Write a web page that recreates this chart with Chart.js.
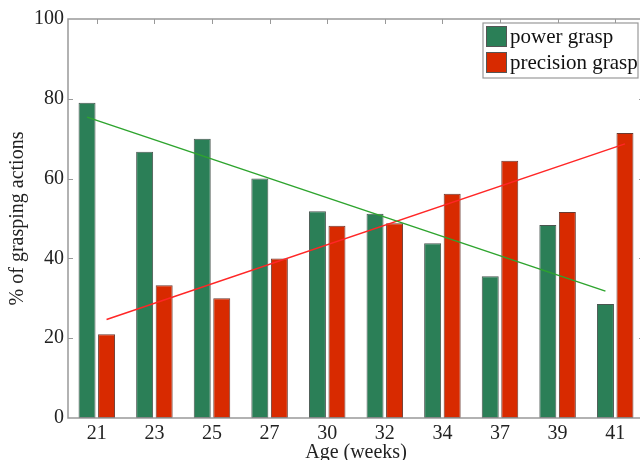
<!DOCTYPE html>
<html>
<head>
<meta charset="utf-8">
<script src="https://cdn.jsdelivr.net/npm/chart.js@4.4.1/dist/chart.umd.min.js"></script>
<style>
  html, body { margin: 0; padding: 0; overflow: hidden; background: #fff; }
  #wrap { width: 646px; height: 460px; }
</style>
</head>
<body>
<div id="wrap"><canvas id="myChart"></canvas></div>
<script>
const ageWeeks = ["21", "23", "25", "27", "30", "32", "34", "37", "39", "41"];
const powerGrasp = [79, 66.7, 70, 60, 51.8, 51.2, 43.8, 35.5, 48.4, 28.6];
const precisionGrasp = [21, 33.3, 30, 40, 48.2, 48.8, 56.2, 64.5, 51.6, 71.4];

// fitted trend lines, first and last week
const trendIndex = [0, 9];
const powerTrend = [75.4, 31.8];
const precisionTrend = [24.7, 68.7];

const yTicks = [0, 20, 40, 60, 80, 100];

const serif = "'Liberation Serif', 'Times New Roman', serif";
const categoryPct = 0.678;
// each bar centre sits a quarter of the group width off the week position
const barShift = categoryPct / 4;

const frameBox = {
  id: "frameBox",
  afterDatasetsDraw(chart) {
    const { ctx, chartArea: a, scales } = chart;
    ctx.save();
    ctx.strokeStyle = "#999";
    ctx.lineWidth = 1.5;
    ctx.strokeRect(a.left, a.top, a.right - a.left, a.bottom - a.top);
    ctx.lineWidth = 1;
    ctx.beginPath();
    yTicks.slice(1, -1).forEach((v) => {
      const y = Math.round(scales.y.getPixelForValue(v)) + 0.5;
      ctx.moveTo(a.left, y);
      ctx.lineTo(a.left + 5, y);
      ctx.moveTo(a.right - 5, y);
      ctx.lineTo(a.right, y);
    });
    ageWeeks.forEach((c, i) => {
      const x = Math.round(scales.x.getPixelForValue(i)) + 0.5;
      ctx.moveTo(x, a.top);
      ctx.lineTo(x, a.top + 5);
    });
    ctx.stroke();
    ctx.restore();
  },
};

const boxLegend = {
  id: "boxLegend",
  afterDraw(chart) {
    const { ctx, chartArea: a } = chart;
    const sets = chart.data.datasets.filter((d) => d.type !== "line");
    const w = 155, h = 55;
    const x0 = a.right - 6 - w, y0 = a.top + 4;
    ctx.save();
    ctx.fillStyle = "#fff";
    ctx.fillRect(x0, y0, w, h);
    ctx.strokeStyle = "#999";
    ctx.lineWidth = 1.2;
    ctx.strokeRect(x0, y0, w, h);
    ctx.font = "21px " + serif;
    ctx.textBaseline = "middle";
    sets.forEach((d, i) => {
      const y = y0 + 3 + i * 26;
      ctx.fillStyle = d.backgroundColor;
      ctx.fillRect(x0 + 3, y, 21, 21);
      ctx.strokeStyle = "#555";
      ctx.lineWidth = 1;
      ctx.strokeRect(x0 + 3.5, y + 0.5, 20, 20);
      ctx.fillStyle = "#111";
      ctx.fillText(d.label, x0 + 27, y + 11);
    });
    ctx.restore();
  },
};

const ctx = document.getElementById("myChart").getContext("2d");
const myChart = new Chart(ctx, {
  type: "bar",
  data: {
    datasets: [
      {
        label: "power grasp",
        data: powerGrasp.map((v, i) => ({ x: i, y: v })),
        backgroundColor: "#2b7f57",
        borderColor: "#4a5550",
        borderWidth: 1,
        borderSkipped: false,
        order: 2,
      },
      {
        label: "precision grasp",
        data: precisionGrasp.map((v, i) => ({ x: i, y: v })),
        backgroundColor: "#d82a00",
        borderColor: "#6a3a30",
        borderWidth: 1,
        borderSkipped: false,
        order: 2,
      },
      {
        type: "line",
        label: "power trend",
        data: trendIndex.map((x, i) => ({ x: x - barShift, y: powerTrend[i] })),
        borderColor: "#2ea42e",
        borderWidth: 1.5,
        pointRadius: 0,
        order: 1,
      },
      {
        type: "line",
        label: "precision trend",
        data: trendIndex.map((x, i) => ({ x: x + barShift, y: precisionTrend[i] })),
        borderColor: "#ff2626",
        borderWidth: 1.5,
        pointRadius: 0,
        order: 1,
      },
    ],
  },
  options: {
    responsive: true,
    maintainAspectRatio: false,
    animation: false,
    layout: { padding: { top: 19, right: 2, left: 0, bottom: 0 } },
    datasets: {
      bar: { categoryPercentage: categoryPct, barPercentage: 0.87 },
    },
    plugins: {
      legend: { display: false },
      tooltip: { enabled: false },
    },
    scales: {
      x: {
        type: "linear",
        min: -0.5,
        max: 9.5,
        offset: false,
        grid: { display: false, drawTicks: false, offset: false },
        border: { display: false },
        afterBuildTicks: (s) => { s.ticks = ageWeeks.map((w, i) => ({ value: i })); },
        ticks: {
          autoSkip: false,
          maxRotation: 0,
          color: "#222",
          font: { family: serif, size: 20 },
          padding: 4,
          callback: (v) => ageWeeks[v],
        },
        title: {
          display: true,
          text: "Age (weeks)",
          color: "#222",
          font: { family: serif, size: 20, lineHeight: 1.2 },
          padding: { top: 0, bottom: -5 },
        },
        afterFit: (s) => { s.height = 42; },
      },
      y: {
        min: 0,
        max: 100,
        grid: { display: false, drawTicks: false },
        border: { display: false },
        ticks: { color: "#222", font: { family: serif, size: 20 }, padding: 4 },
        afterBuildTicks: (s) => { s.ticks = yTicks.map((v) => ({ value: v })); },
        title: {
          display: true,
          text: "% of grasping actions",
          color: "#222",
          font: { family: serif, size: 20, lineHeight: 1.2 },
          padding: { top: 6, bottom: 0 },
        },
        afterFit: (s) => { s.width = 68; },
      },
    },
  },
  plugins: [frameBox, boxLegend],
});
</script>
</body>
</html>
